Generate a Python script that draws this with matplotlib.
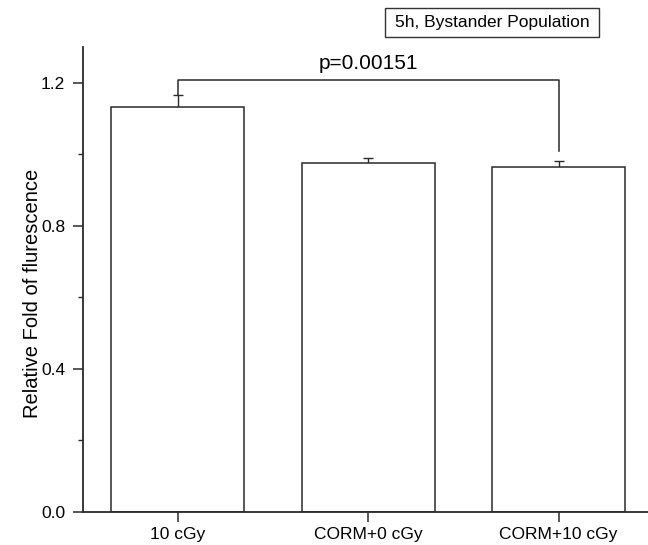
import numpy as np
import matplotlib.pyplot as plt
from matplotlib.patches import Rectangle
from matplotlib.ticker import MultipleLocator

plt.rcParams['font.family'] = ['Liberation Sans', 'DejaVu Sans']

groups = ["10 cGy", "CORM+0 cGy", "CORM+10 cGy"]
values = [1.131, 0.975, 0.963]
errors = [0.035, 0.013, 0.017]
p_text = "p=0.00151"
panel_label = "5h, Bystander Population"

fig = plt.figure(figsize=(6.48, 5.45), dpi=100)
ax = fig.add_axes([0.1276, 0.0606, 0.8724, 0.8534])

x = np.arange(len(groups))
# error bars sit behind the white bars, so only the upper half shows
ax.errorbar(x, values, yerr=errors, fmt="none", ecolor="#2a2a2a",
            elinewidth=1.0, capsize=3.3, capthick=1.0, zorder=1)
ax.bar(x, values, width=0.7, color="white", edgecolor="#2a2a2a", linewidth=1.1, zorder=2)

# significance bracket between first and last bar
y_br = 1.208
ax.plot([x[0], x[0], x[2], x[2]], [values[0] + errors[0], y_br, y_br, 1.008],
        color="#2a2a2a", linewidth=1.1)
ax.text((x[0] + x[2]) / 2, y_br + 0.02, p_text, ha="center", va="bottom", fontsize=15)

ax.set_xlim(-0.5, 2.47)
ax.set_ylim(0, 1.3)
ax.set_xticks(x)
ax.set_xticklabels(groups, fontsize=12.5)
ax.set_yticks([0.0, 0.4, 0.8, 1.2])
ax.set_yticklabels(["0.0", "0.4", "0.8", "1.2"], fontsize=12.5)
ax.yaxis.set_minor_locator(MultipleLocator(0.2))
ax.tick_params(axis="both", which="major", direction="out", length=7, width=1.1, color="#2a2a2a")
ax.tick_params(axis="y", which="major", pad=5.5)
ax.tick_params(axis="y", which="minor", direction="out", length=3.5, width=1.0, color="#2a2a2a")
ax.tick_params(axis="x", which="minor", bottom=False)
ax.set_ylabel("Relative Fold of flurescence", fontsize=14.5)
ax.yaxis.set_label_coords(-0.072, 0.469)

for s in ["top", "right"]:
    ax.spines[s].set_visible(False)
for s in ["left", "bottom"]:
    ax.spines[s].set_linewidth(1.3)
    ax.spines[s].set_color("#2a2a2a")

# boxed panel label in the top right corner
fig.patches.append(Rectangle((385 / 648, 1 - 36.7 / 545), 214 / 648, 29 / 545,
                             transform=fig.transFigure, facecolor="white",
                             edgecolor="#333333", linewidth=1.0))
fig.text(492 / 648, 1 - 22.2 / 545, panel_label, ha="center", va="center", fontsize=12.5)

fig.savefig("out.png", dpi=100)
